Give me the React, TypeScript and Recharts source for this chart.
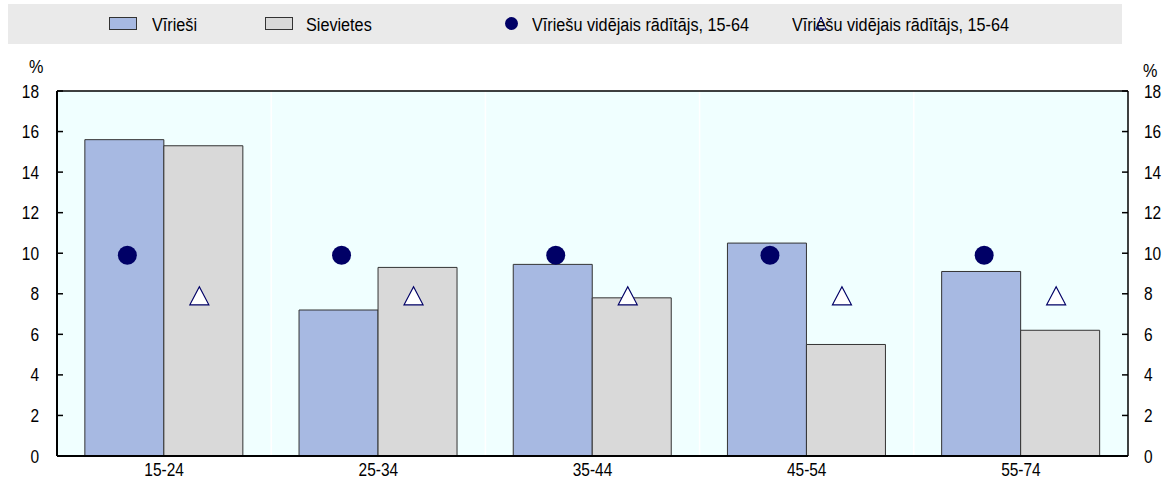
import React from 'react';
import { ComposedChart, Bar, Line, XAxis, YAxis, CartesianGrid, ReferenceLine, Rectangle } from 'recharts';

const ageGroups = ['15-24', '25-34', '35-44', '45-54', '55-74'];
const menValues = [15.6, 7.2, 9.45, 10.5, 9.1];
const womenValues = [15.3, 9.3, 7.8, 5.5, 6.2];
const menAverage = [9.9, 9.9, 9.9, 9.9, 9.9];
const womenAverage = [7.85, 7.85, 7.85, 7.85, 7.85];
const yTicks = [0, 2, 4, 6, 8, 10, 12, 14, 16, 18];

const MEN = '#A7B9E2';
const WOMEN = '#D9D9D9';
const NAVY = '#000066';
const FONT = '"Liberation Sans", Arial, sans-serif';
const FS = 18;
const SQUEEZE = 0.86; // the original uses a narrow face

const data = ageGroups.map((g, i) => ({
  group: g,
  men: menValues[i],
  women: womenValues[i],
  menAvg: menAverage[i],
  womenAvg: womenAverage[i],
}));

// marker drawn on the bar's own scale: pixels per unit = height / value
function MenShape(props: any) {
  const { x, y, width, height, payload } = props;
  const base = y + height;
  const cy = base - (payload.menAvg * height) / payload.men;
  return (
    <g>
      <Rectangle x={x} y={y} width={width} height={height} fill={MEN} stroke="#333" strokeWidth={1} />
      <circle cx={x + width / 2 + 3} cy={cy} r={9.5} fill={NAVY} />
    </g>
  );
}

function WomenShape(props: any) {
  const { x, y, width, height, payload } = props;
  const base = y + height;
  const cy = base - (payload.womenAvg * height) / payload.women;
  const cx = x + width / 2 - 4;
  return (
    <g>
      <Rectangle x={x} y={y} width={width} height={height} fill={WOMEN} stroke="#333" strokeWidth={1} />
      <path
        d={`M${cx},${cy - 10} L${cx + 9.5},${cy + 8} L${cx - 9.5},${cy + 8} Z`}
        fill="#fff"
        stroke={NAVY}
        strokeWidth={1.2}
      />
    </g>
  );
}

function NarrowText({ x, y, anchor, children }: any) {
  return (
    <text
      transform={`translate(${x},${y}) scale(${SQUEEZE},1)`}
      x={0}
      y={0}
      textAnchor={anchor}
      fontSize={FS}
      fontFamily={FONT}
      fill="#000"
    >
      {children}
    </text>
  );
}

function LeftTick(props: any) {
  const { x, y, payload } = props;
  return (
    <g>
      <line x1={x + 15} x2={x + 21} y1={y} y2={y} stroke="#000" strokeWidth={1.5} />
      <NarrowText x={x - 3} y={y + 6.5} anchor="end">{payload.value}</NarrowText>
    </g>
  );
}

function RightTick(props: any) {
  const { x, y, payload } = props;
  return (
    <g>
      <line x1={x - 15} x2={x - 21} y1={y} y2={y} stroke="#000" strokeWidth={1.5} />
      <NarrowText x={x + 1} y={y + 6.5} anchor="start">{payload.value}</NarrowText>
    </g>
  );
}

function BottomTick(props: any) {
  const { x, y, payload } = props;
  return <NarrowText x={x} y={y + 14} anchor="middle">{payload.value}</NarrowText>;
}

const legendText: React.CSSProperties = {
  position: 'absolute',
  top: 15,
  fontSize: FS,
  lineHeight: '20px',
  fontFamily: FONT,
  color: '#000',
  whiteSpace: 'nowrap',
  transform: 'scaleX(0.9)',
  transformOrigin: '0 0',
};

export default function App() {
  return (
    <div style={{ position: 'absolute', left: 0, top: 0, width: 1170, height: 484, background: '#fff' }}>
      {/* legende */}
      <div style={{ position: 'absolute', left: 8, top: 4, width: 1114, height: 40, background: '#EAEAEA' }} />
      <div style={{ position: 'absolute', left: 109, top: 17, width: 26, height: 11, background: MEN, border: '1px solid #333' }} />
      <span style={{ ...legendText, left: 152 }}>Vīrieši</span>
      <div style={{ position: 'absolute', left: 265, top: 17, width: 26, height: 11, background: WOMEN, border: '1px solid #333' }} />
      <span style={{ ...legendText, left: 306 }}>Sievietes</span>
      <div style={{ position: 'absolute', left: 505, top: 17, width: 13, height: 13, borderRadius: '50%', background: NAVY }} />
      <span style={{ ...legendText, left: 532 }}>Vīriešu vidējais rādītājs, 15-64</span>
      <span style={{ ...legendText, left: 792 }}>Vīriešu vidējais rādītājs, 15-64</span>
      <svg style={{ position: 'absolute', left: 814, top: 16 }} width={14} height={16}>
        <path d="M7,1 L12,13 L2,13 Z" fill="none" stroke={NAVY} strokeWidth={1} />
      </svg>

      <span style={{ ...legendText, left: 29, top: 57 }}>%</span>
      <span style={{ ...legendText, left: 1143, top: 61 }}>%</span>

      <div style={{ position: 'absolute', left: 0, top: 0 }}>
        <ComposedChart
          width={1170}
          height={484}
          data={data}
          margin={{ top: 91, right: 0, bottom: 0, left: 7 }}
          barCategoryGap="13%"
          barGap={0}
        >
          <CartesianGrid
            fill="#F0FFFF"
            stroke="#fff"
            strokeWidth={1.5}
            horizontalValues={yTicks}
            verticalCoordinatesGenerator={({ offset }: any) =>
              ageGroups.map((_, i) => offset.left + (i * offset.width) / ageGroups.length).slice(1)
            }
          />
          <XAxis
            dataKey="group"
            height={28}
            tickSize={0}
            tickMargin={6}
            axisLine={{ stroke: '#000', strokeWidth: 2 }}
            tick={<BottomTick />}
          />
          <YAxis
            yAxisId="left"
            width={50}
            domain={[0, 18]}
            ticks={yTicks}
            interval={0}
            tickSize={0}
            tickMargin={15}
            axisLine={{ stroke: '#000', strokeWidth: 2 }}
            tick={<LeftTick />}
          />
          <YAxis
            yAxisId="right"
            orientation="right"
            width={42}
            domain={[0, 18]}
            ticks={yTicks}
            interval={0}
            tickSize={0}
            tickMargin={15}
            axisLine={{ stroke: '#000', strokeWidth: 1.5 }}
            tick={<RightTick />}
          />
          <ReferenceLine yAxisId="left" y={18} stroke="#000" strokeWidth={1.5} />
          <Bar yAxisId="left" dataKey="men" isAnimationActive={false} shape={<MenShape />} />
          <Bar yAxisId="left" dataKey="women" isAnimationActive={false} shape={<WomenShape />} />
          {/* keeps the right axis bound to data so its ticks are drawn */}
          <Line
            yAxisId="right"
            dataKey="menAvg"
            stroke="none"
            dot={false}
            activeDot={false}
            legendType="none"
            isAnimationActive={false}
          />
        </ComposedChart>
      </div>
    </div>
  );
}
